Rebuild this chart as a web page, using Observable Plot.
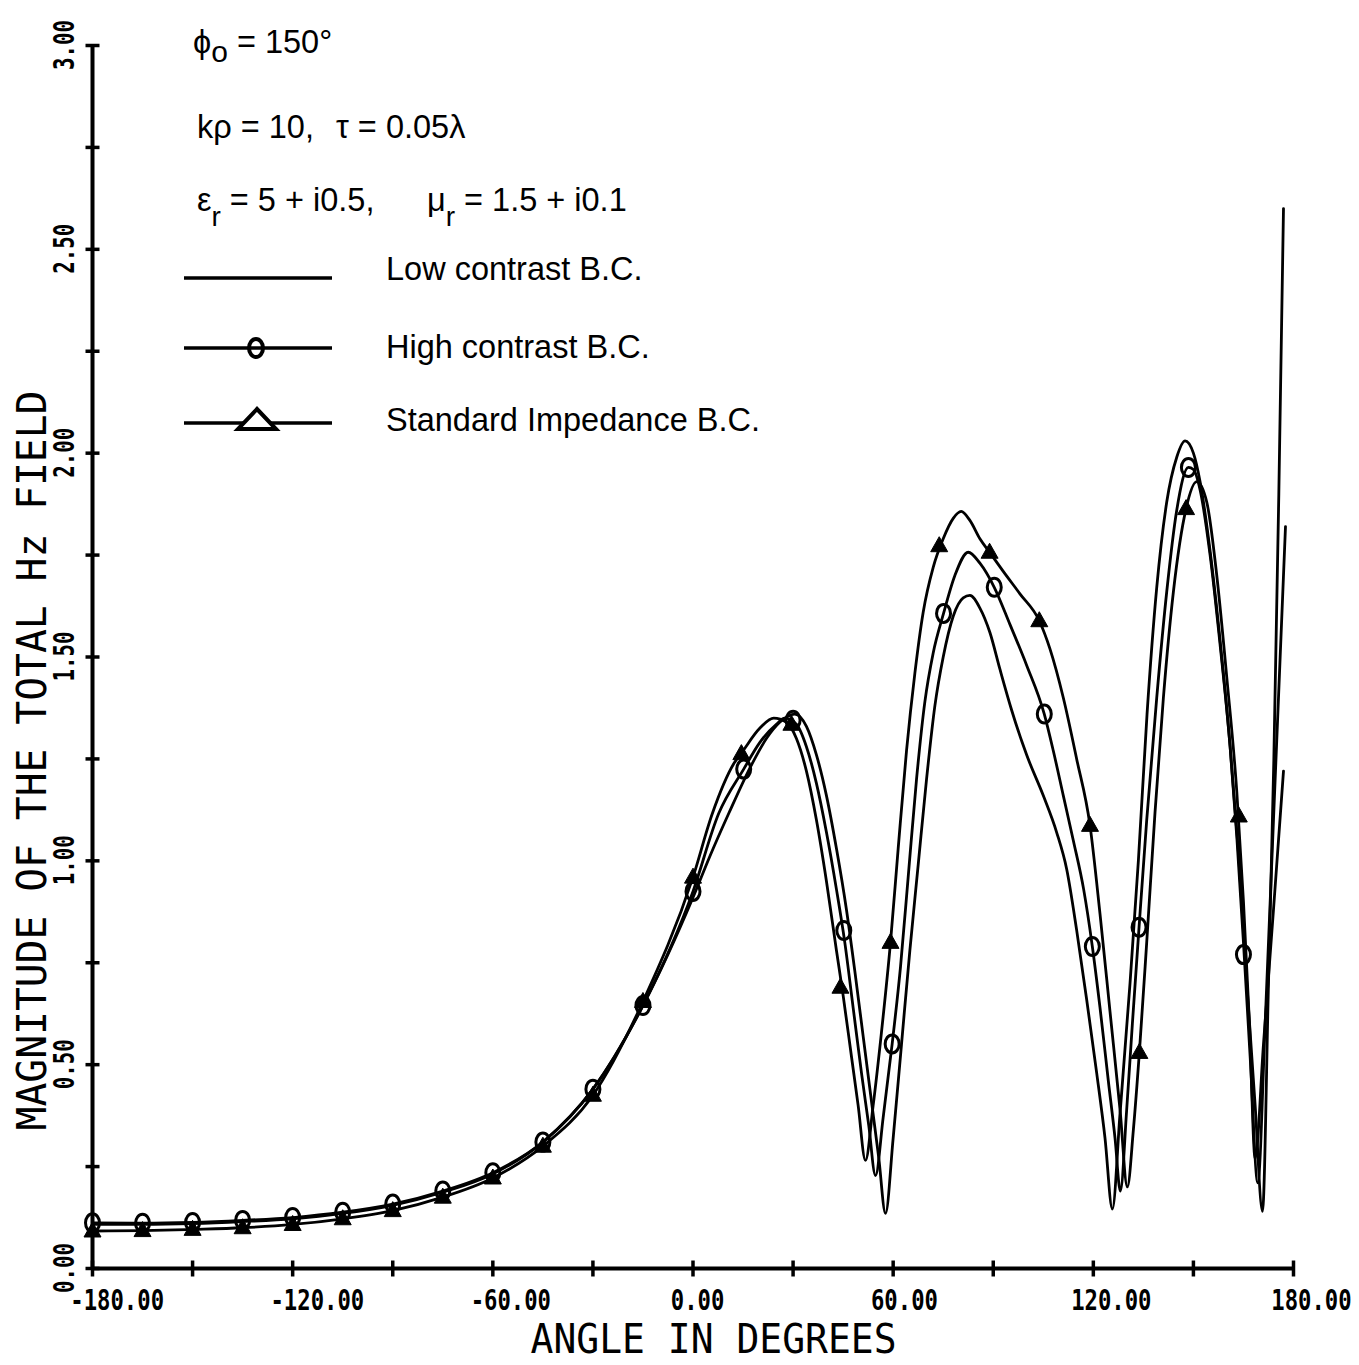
<!DOCTYPE html>
<html>
<head>
<meta charset="utf-8">
<script src="https://cdn.jsdelivr.net/npm/d3@7"></script>
<script src="https://cdn.jsdelivr.net/npm/@observablehq/plot@0.6"></script>
<style>
html, body { margin: 0; padding: 0; background: #fff; overflow: hidden; }
#chart svg { display: block; }
</style>
</head>
<body>
<div id="chart"></div>
<script>
// ---------------- data ----------------
// Low contrast B.C. (plain line)
const lowAngles = [-180,-165,-150,-135,-120,-105,-90,-75,-60,-45,-30,-15,0,5,10.7,17.7,22,26,30.5,34,37,40,43,46,48.5,51,53.5,55.7,57.7,60,62.5,65,67.5,70,72.5,75,78,81,83,86,89,92,95.5,100,105,109,112,115,118,121,123.5,125.7,128,131,133.5,136.1,139,142,145,147.5,150,152,155,158,161,163.5,166,168.5,170.7,172.5,174.1,175.6,177];
const lowValues = [0.108,0.108,0.11,0.115,0.122,0.135,0.155,0.187,0.232,0.31,0.44,0.645,0.91,1.01,1.116,1.238,1.30,1.34,1.36,1.33,1.26,1.16,1.03,0.88,0.73,0.57,0.41,0.27,0.135,0.32,0.55,0.78,0.99,1.20,1.38,1.50,1.60,1.645,1.651,1.62,1.56,1.47,1.37,1.26,1.16,1.07,0.98,0.83,0.66,0.48,0.32,0.146,0.38,0.70,1.0,1.36,1.67,1.88,1.99,2.03,2.0,1.93,1.76,1.54,1.28,1.02,0.70,0.40,0.14,0.70,1.246,1.9,2.6];

// High contrast B.C. (circles)
const highAngles = [-180,-165,-150,-135,-120,-105,-90,-75,-60,-45,-30,-15,0,7.7,15.2,20,25,27.5,31,34,37,40,43,45.5,48,50.5,52.7,54.7,57,59.7,62.2,64.5,67,69.5,72,75.1,78.5,82.5,86,90.3,95,100,105.3,108,111,114,117.1,119.7,122,124.5,126.5,128.1,130,131.7,133.7,136,139,142,145,148.5,150,152,155,158,161,163,165,167,169.3,171.5,174,176,177.6];
const highValues = [0.112,0.111,0.113,0.118,0.125,0.138,0.158,0.19,0.235,0.31,0.44,0.645,0.925,1.116,1.225,1.29,1.335,1.35,1.335,1.28,1.19,1.07,0.93,0.80,0.64,0.48,0.35,0.228,0.37,0.551,0.74,0.96,1.2,1.39,1.51,1.607,1.70,1.757,1.73,1.671,1.58,1.48,1.36,1.27,1.16,1.05,0.93,0.79,0.64,0.46,0.32,0.19,0.39,0.6,0.837,1.1,1.4,1.66,1.86,1.965,1.96,1.91,1.75,1.53,1.28,1.06,0.8,0.52,0.21,0.6,1.1,1.5,1.82];

// Standard Impedance B.C. (triangles)
const sibcAngles = [-180,-165,-150,-135,-120,-105,-90,-75,-60,-45,-30,-15,0,5.8,12.2,15,20,24.2,28,31,34,37,40,43,45,47.5,49.5,51.7,54,56.5,59.2,61.5,64,66.5,69,72,75,78,80.4,83,86,88.9,93,98,103.8,107,111,115,119,122,125,128,130.2,132,133.8,136,138.5,141,144,147.8,151,154,157,160,163,165,166.8,168.5,171,174,177];
const sibcValues = [0.092,0.093,0.096,0.10,0.108,0.122,0.142,0.175,0.222,0.30,0.425,0.655,0.96,1.116,1.238,1.27,1.325,1.35,1.34,1.30,1.22,1.10,0.95,0.78,0.67,0.52,0.40,0.265,0.40,0.58,0.80,1.03,1.27,1.46,1.61,1.72,1.79,1.84,1.857,1.835,1.79,1.757,1.71,1.655,1.589,1.52,1.40,1.25,1.087,0.87,0.63,0.39,0.20,0.34,0.53,0.80,1.12,1.40,1.66,1.864,1.93,1.88,1.70,1.45,1.17,0.9,0.6,0.27,0.55,0.88,1.22];

// marker positions
const circleAngles = [-180,-165,-150,-135,-120,-105,-90,-75,-60,-45,-30,-15,0,15.2,30,45.2,59.7,75.1,90.3,105.3,119.7,133.7,148.5,165];
const circleValues = [0.112,0.111,0.113,0.118,0.125,0.138,0.158,0.19,0.235,0.31,0.44,0.645,0.925,1.225,1.345,0.829,0.551,1.607,1.671,1.36,0.79,0.837,1.965,0.77];
const triangleAngles = [-180,-165,-150,-135,-120,-105,-90,-75,-60,-45,-30,-15,0,14.5,29.5,44.2,59.2,73.8,88.9,103.8,119,133.8,147.8,163.6];
const triangleValues = [0.092,0.093,0.096,0.10,0.108,0.122,0.142,0.175,0.222,0.30,0.425,0.655,0.96,1.263,1.335,0.69,0.80,1.773,1.757,1.589,1.087,0.53,1.864,1.11];

// axes
const xTickValues = [-180,-150,-120,-90,-60,-30,0,30,60,90,120,150,180];
const xLabelValues = [-180,-120,-60,0,60,120,180];
const xLabels = ["-180.00","-120.00","-60.00","0.00","60.00","120.00","180.00"];
const yTickValues = [0,0.25,0.5,0.75,1,1.25,1.5,1.75,2,2.25,2.5,2.75,3];
const yLabelValues = [0,0.5,1,1.5,2,2.5,3];
const yLabels = ["0.00","0.50","1.00","1.50","2.00","2.50","3.00"];
const xTitle = "ANGLE IN DEGREES";
const yTitle = "MAGNITUDE OF THE TOTAL Hz FIELD";
const legendLabels = ["Low contrast B.C.", "High contrast B.C.", "Standard Impedance B.C."];

// ---------------- build ----------------
const pairs = (a, v) => a.map((d, i) => ({a: d, v: v[i]}));
const lowData = pairs(lowAngles, lowValues);
const highData = pairs(highAngles, highValues);
const sibcData = pairs(sibcAngles, sibcValues);
const circleData = pairs(circleAngles, circleValues);
const triData = pairs(triangleAngles, triangleValues);

const vTick = {draw(ctx) { ctx.moveTo(0, -8); ctx.lineTo(0, 8); }};
const hTick = {draw(ctx) { ctx.moveTo(-7, 0); ctx.lineTo(7, 0); }};
const tri = {draw(ctx) { ctx.moveTo(0, -9); ctx.lineTo(8.5, 6); ctx.lineTo(-8.5, 6); ctx.closePath(); }};
const ell = {draw(ctx) {
  const rx = 7, ry = 9, k = 0.5523;
  ctx.moveTo(0, -ry);
  ctx.bezierCurveTo(k*rx, -ry, rx, -k*ry, rx, 0);
  ctx.bezierCurveTo(rx, k*ry, k*rx, ry, 0, ry);
  ctx.bezierCurveTo(-k*rx, ry, -rx, k*ry, -rx, 0);
  ctx.bezierCurveTo(-rx, -k*ry, -k*rx, -ry, 0, -ry);
  ctx.closePath();
}};

const lineStyle = {x: "a", y: "v", curve: "monotone-x", stroke: "black", strokeWidth: 2.8};

const plot = Plot.plot({
  width: 1359,
  height: 1365,
  marginLeft: 92,
  marginRight: 66,
  marginTop: 45,
  marginBottom: 97,
  x: {domain: [-180, 180], axis: null},
  y: {domain: [0, 3], axis: null},
  style: {background: "white", overflow: "visible"},
  marks: [
    Plot.ruleX([-180], {stroke: "black", strokeWidth: 4}),
    Plot.ruleY([0], {stroke: "black", strokeWidth: 4}),
    Plot.dot(xTickValues, {x: d => d, y: () => 0, symbol: vTick, stroke: "black", strokeWidth: 3.5, fill: "none"}),
    Plot.dot(yTickValues, {x: () => -180, y: d => d, symbol: hTick, stroke: "black", strokeWidth: 3.5, fill: "none"}),
    Plot.line(lowData, lineStyle),
    Plot.line(highData, lineStyle),
    Plot.line(sibcData, lineStyle),
    Plot.dot(circleData, {x: "a", y: "v", symbol: ell, stroke: "black", strokeWidth: 3, fill: "none"}),
    Plot.dot(triData, {x: "a", y: "v", symbol: tri, fill: "black", stroke: "black", strokeWidth: 1})
  ]
});

document.getElementById("chart").appendChild(plot);

const svg = d3.select(plot);
const xs = plot.scale("x"), ys = plot.scale("y");
const X0 = xs.apply(-180), Y0 = ys.apply(0);
const g = svg.append("g").attr("fill", "black").attr("text-anchor", "start");
const mono = "'DejaVu Sans Mono', 'Liberation Mono', monospace";
const sans = "'Liberation Sans', Arial, Helvetica, sans-serif";

// text squeezed horizontally to a target length (plotter-style condensed lettering)
function squeezed(parent, str, tx, ty, rot, anchor, size, weight, target) {
  const outer = parent.append("g").attr("transform", `translate(${tx},${ty})` + (rot ? ` rotate(${rot})` : ""));
  const inner = outer.append("g");
  const el = inner.append("text")
    .attr("text-anchor", anchor)
    .attr("font-family", mono).attr("font-weight", weight).attr("font-size", size)
    .text(str);
  const natural = el.node().getComputedTextLength() || target;
  inner.attr("transform", `scale(${target / natural},1)`);
  return el;
}

// x tick labels
xLabelValues.forEach((v, i) => {
  squeezed(g, xLabels[i], xs.apply(v) - 21.7, Y0 + 42, 0, "start", 29, "bold", xLabels[i].length * 13.4);
});
// y tick labels (rotated)
yLabelValues.forEach((v, i) => {
  squeezed(g, yLabels[i], X0 - 18.5, ys.apply(v), -90, "middle", 29, "bold", yLabels[i].length * 12.5);
});
// axis titles
squeezed(g, xTitle, 530.6, Y0 + 85, 0, "start", 41, "normal", 366);
squeezed(g, yTitle, 46, (ys.apply(0) + ys.apply(3)) / 2 + 104, -90, "middle", 41, "normal", 740);

// annotations
const ann = g.append("g").attr("font-family", sans).attr("font-size", 32.5)
  .attr("text-anchor", "start").style("white-space", "pre");
let t = ann.append("text").attr("x", 193).attr("y", 53);
t.append("tspan").text("\u03D5");
t.append("tspan").attr("dy", 9).attr("font-size", 30).text("o");
t.append("tspan").attr("dy", -9).text(" = 150\u00B0");

ann.append("text").attr("x", 197).attr("y", 138).text("k\u03C1 = 10,");
ann.append("text").attr("x", 336).attr("y", 138).text("\u03C4 = 0.05\u03BB");

t = ann.append("text").attr("x", 197).attr("y", 211);
t.append("tspan").text("\u03B5");
t.append("tspan").attr("dy", 15).attr("font-size", 28).text("r");
t.append("tspan").attr("dy", -15).text(" = 5 + i0.5,");
t = ann.append("text").attr("x", 427).attr("y", 211);
t.append("tspan").text("\u03BC");
t.append("tspan").attr("dy", 15).attr("font-size", 28).text("r");
t.append("tspan").attr("dy", -15).text(" = 1.5 + i0.1");

// legend
const legY = [278, 348, 423];
const legBase = [280, 358, 431];
legY.forEach((y, i) => {
  ann.append("line").attr("x1", 184).attr("x2", 332).attr("y1", y).attr("y2", y)
    .attr("stroke", "black").attr("stroke-width", 3.5);
  ann.append("text").attr("x", 386).attr("y", legBase[i]).text(legendLabels[i]);
});
ann.append("ellipse").attr("cx", 256).attr("cy", legY[1]).attr("rx", 7).attr("ry", 9)
  .attr("fill", "none").attr("stroke", "black").attr("stroke-width", 4);
ann.append("path").attr("d", `M238,${legY[2] + 6}L276,${legY[2] + 6}L257,${legY[2] - 14}Z`)
  .attr("fill", "white").attr("stroke", "black").attr("stroke-width", 4).attr("stroke-linejoin", "miter");
</script>
</body>
</html>
